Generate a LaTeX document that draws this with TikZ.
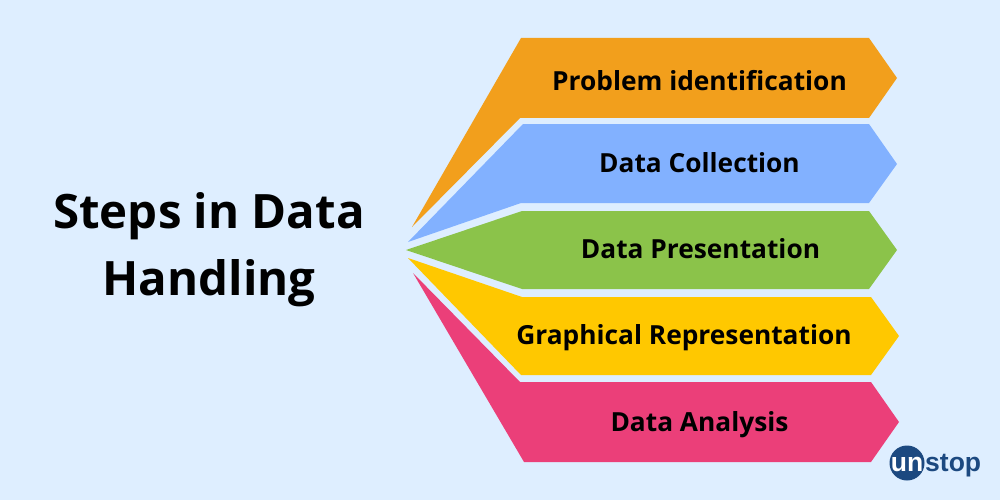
\documentclass[tikz,border=0pt]{standalone}
\usepackage{fontspec}
\setmainfont{Open Sans}
\newfontfamily\logofont{Liberation Sans}
\definecolor{bgblue}{HTML}{DEEEFF}
\definecolor{steporange}{HTML}{F29F1C}
\definecolor{stepblue}{HTML}{82B1FF}
\definecolor{stepgreen}{HTML}{8BC34A}
\definecolor{stepyellow}{HTML}{FFC800}
\definecolor{steppink}{HTML}{EB3F79}
\definecolor{logoblue}{HTML}{1C4980}

\begin{document}
\begin{tikzpicture}[x = 1pt, y = -1pt, main/.style = {font=\bfseries\fontsize{26.3}{26}\selectfont, text=black, inner sep=0, anchor=base},
	title/.style = {font=\bfseries\fontsize{47.4}{67}\selectfont, text=black, inner sep=0, align=center},
	logo/.style = {font=\logofont\bfseries\fontsize{26.5}{27}\selectfont, inner sep=0}]
	\fill[bgblue] (0, 0) rectangle (1000, 500);
	\useasboundingbox (0, 0) rectangle (1000, 500);
	\fill[steporange] (412, 227) -- (521, 38) -- (869, 38) -- (897, 78) -- (869, 118) -- (520, 118) -- cycle;
	\fill[stepblue] (408, 242) -- (523, 124) -- (869, 124) -- (897, 164) -- (869, 203) -- (521, 203) -- cycle;
	\fill[stepgreen] (406, 250) -- (522, 211) -- (869, 211) -- (897, 250) -- (869, 289) -- (522, 289) -- cycle;
	\fill[stepyellow] (408, 258) -- (522, 297) -- (871, 297) -- (899, 336) -- (871, 375) -- (521, 375) -- cycle;
	\fill[steppink] (413, 273) -- (520, 382) -- (871, 382) -- (899, 422) -- (871, 462) -- (524, 462) -- cycle;
	\node[title] (T) at (209, 250){Steps in Data\\Handling};
	\node[main] (P) at (699.5, 91){Problem identification};
	\node[main] (C) at (699.5, 172){Data Collection};
	\node[main] (R) at (700.5, 258){Data Presentation};
	\node[main] (G) at (684, 344){Graphical Representation};
	\node[main] (A) at (699.5, 431){Data Analysis};
	\fill[logoblue] (907, 463) circle (17.5);
	\node[logo, text=white, anchor=base] (U) at (907, 471.5){un};
	\node[logo, text=logoblue, anchor=base west] (S) at (925, 471.5){stop};
\end{tikzpicture}
\end{document}
